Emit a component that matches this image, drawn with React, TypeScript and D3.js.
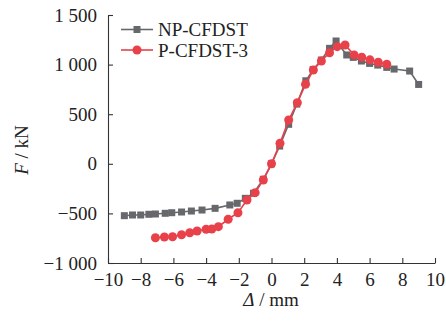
import React, { useEffect, useRef } from 'react';
import * as d3 from 'd3';

// NP-CFDST series (displacement in mm, load in kN)
const npDisp = [-9.0, -8.5, -8.0, -7.5, -7.1, -6.5, -6.1, -5.5, -4.9, -4.25, -3.45, -2.55, -2.1, -1.6, -1.1, -0.5, 0, 0.5, 1.05, 1.55, 2.1, 2.55, 3.05, 3.55, 3.95, 4.6, 5.0, 5.5, 6.0, 6.5, 7.05, 7.5, 8.45, 9.0];
const npForce = [-523, -516, -516, -509, -506, -499, -493, -486, -476, -466, -449, -415, -398, -348, -297, -156, 0, 179, 398, 602, 837, 951, 1046, 1164, 1238, 1097, 1073, 1036, 1012, 995, 972, 955, 935, 800];

// P-CFDST-3 series
const pDisp = [-7.1, -6.55, -6.05, -5.5, -5.0, -4.55, -4.0, -3.65, -3.25, -2.65, -2.05, -1.5, -1.0, -0.5, 0, 0.52, 1.05, 1.58, 2.08, 2.56, 3.05, 3.55, 4.02, 4.5, 5.05, 5.52, 6.02, 6.53, 7.05];
const pForce = [-745, -738, -735, -715, -695, -677, -660, -657, -634, -559, -493, -365, -291, -163, 0, 207, 441, 616, 801, 945, 1036, 1120, 1181, 1198, 1098, 1075, 1048, 1024, 1004];

const xTicks = [-10, -8, -6, -4, -2, 0, 2, 4, 6, 8, 10];
const yTicks = [-1000, -500, 0, 500, 1000, 1500];

const seriesNames = ['NP-CFDST', 'P-CFDST-3'];

const FONT = '"Liberation Serif", "Times New Roman", serif';
const GRAY = '#67686c';
const RED = '#e8414a';

const fmt = (v: number) => (v < 0 ? '\u2212' : '') + d3.format(',')(Math.abs(v)).replace(',', ' ');

const App = () => {
  const ref = useRef<SVGSVGElement>(null);

  useEffect(() => {
    const svg = d3.select(ref.current);
    svg.selectAll('*').remove();

    const x = d3.scaleLinear().domain([-10, 10]).range([108, 435]);
    const y = d3.scaleLinear().domain([-1000, 1500]).range([263, 15]);

    // axes, ticks pointing inward
    const xAxis = d3.axisBottom(x).tickValues(xTicks).tickFormat((d: any) => fmt(d)).tickSizeInner(-5).tickSizeOuter(0).tickPadding(10);
    const yAxis = d3.axisLeft(y).tickValues(yTicks).tickFormat((d: any) => fmt(d)).tickSizeInner(-5).tickSizeOuter(0).tickPadding(11);

    const gx = svg.append('g').attr('transform', 'translate(0,263)').call(xAxis);
    const gy = svg.append('g').attr('transform', 'translate(108,0)').call(yAxis);
    [gx, gy].forEach((g) => {
      g.selectAll('path,line').attr('stroke', '#333').attr('stroke-width', 1.1);
      g.selectAll('text').attr('font-family', FONT).attr('font-size', 19).attr('fill', '#222');
    });

    // axis titles
    const xt = svg.append('text').attr('x', 271).attr('y', 306).attr('text-anchor', 'middle').attr('font-family', FONT).attr('font-size', 19).attr('fill', '#222');
    xt.append('tspan').attr('font-style', 'italic').text('Δ');
    xt.append('tspan').text(' / mm');

    const yt = svg.append('text').attr('transform', 'translate(28,150) rotate(-90)').attr('text-anchor', 'middle').attr('font-family', FONT).attr('font-size', 19).attr('fill', '#222');
    yt.append('tspan').attr('font-style', 'italic').text('F');
    yt.append('tspan').text(' / kN');

    const line = d3.line<[number, number]>().x((d) => x(d[0])).y((d) => y(d[1]));

    // NP-CFDST
    const npData: [number, number][] = npDisp.map((d, i) => [d, npForce[i]]);
    svg.append('path').datum(npData).attr('d', line).attr('fill', 'none').attr('stroke', GRAY).attr('stroke-width', 1.6);
    svg.append('g').selectAll('rect').data(npData).enter().append('rect')
      .attr('x', (d) => x(d[0]) - 3.5).attr('y', (d) => y(d[1]) - 3.5)
      .attr('width', 7).attr('height', 7).attr('fill', GRAY);

    // P-CFDST-3
    const pData: [number, number][] = pDisp.map((d, i) => [d, pForce[i]]);
    svg.append('path').datum(pData).attr('d', line).attr('fill', 'none').attr('stroke', RED).attr('stroke-width', 1.6);
    svg.append('g').selectAll('circle').data(pData).enter().append('circle')
      .attr('cx', (d) => x(d[0])).attr('cy', (d) => y(d[1])).attr('r', 4.5).attr('fill', RED);

    // legend
    const lg = svg.append('g');
    lg.append('line').attr('x1', 121).attr('x2', 153).attr('y1', 29.5).attr('y2', 29.5).attr('stroke', GRAY).attr('stroke-width', 1.6);
    lg.append('rect').attr('x', 133.5).attr('y', 26).attr('width', 7).attr('height', 7).attr('fill', GRAY);
    lg.append('line').attr('x1', 121).attr('x2', 153).attr('y1', 50).attr('y2', 50).attr('stroke', RED).attr('stroke-width', 1.6);
    lg.append('circle').attr('cx', 137).attr('cy', 50).attr('r', 4.5).attr('fill', RED);
    seriesNames.forEach((name, i) => {
      lg.append('text').text(name).attr('x', 158).attr('y', 36 + i * 20.5)
        .attr('font-family', FONT).attr('font-size', 19).attr('fill', '#222');
    });
  }, []);

  return (
    <svg ref={ref} width={446} height={321} style={{ position: 'absolute', left: 0, top: 0, background: '#fff' }} />
  );
};

export default App;
